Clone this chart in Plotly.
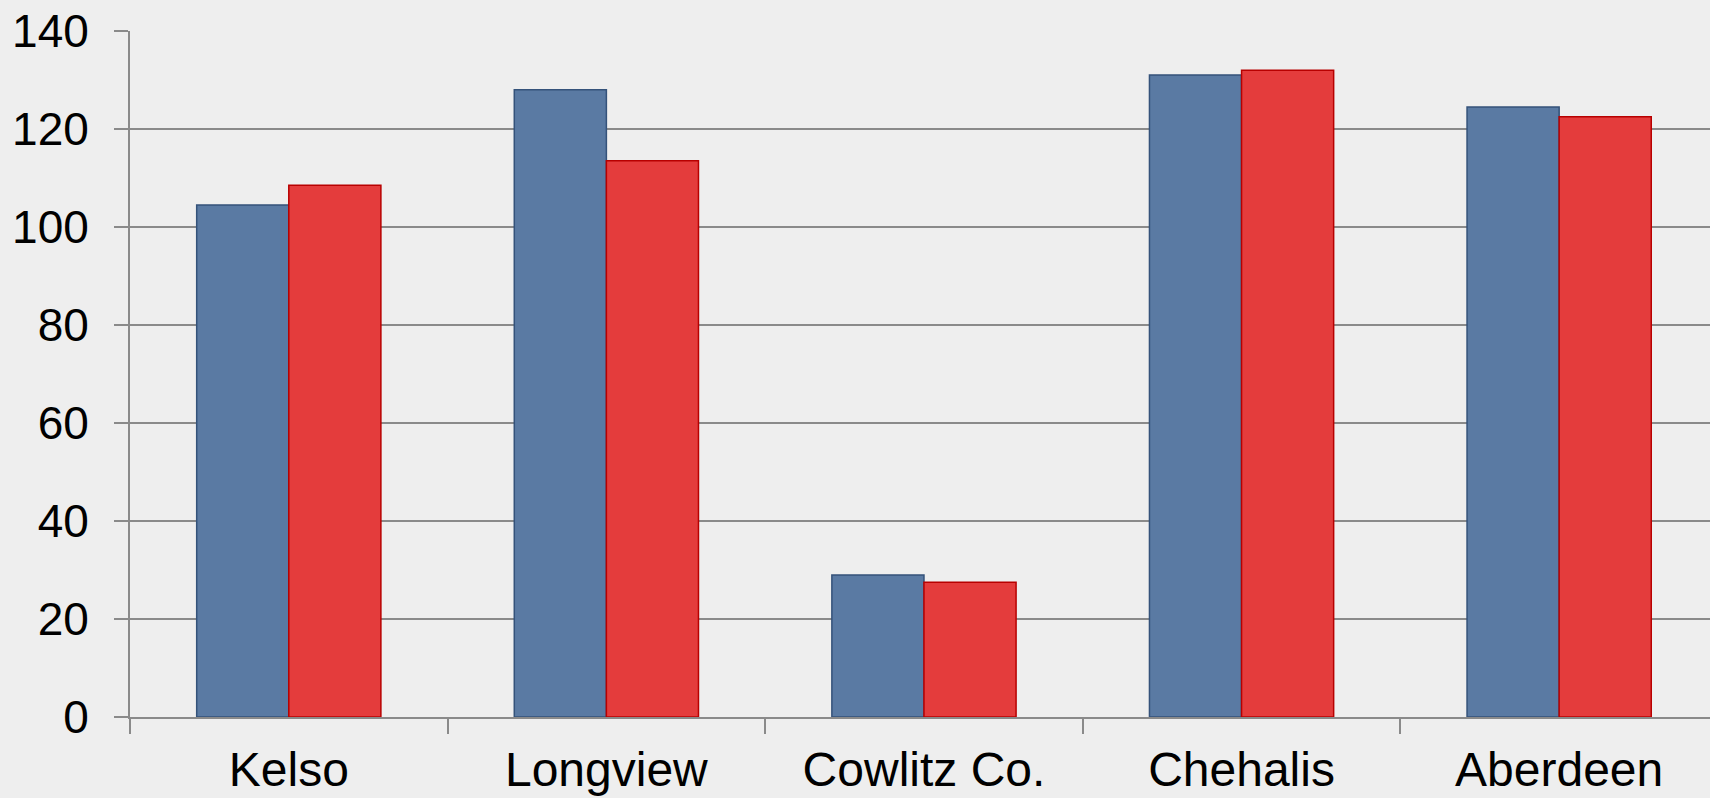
import plotly.graph_objects as go

categories = ["Kelso", "Longview", "Cowlitz Co.", "Chehalis", "Aberdeen"]
series_blue = [104.5, 128.0, 29.0, 131.0, 124.5]
series_red = [108.5, 113.5, 27.5, 132.0, 122.5]
y_ticks = [0, 20, 40, 60, 80, 100, 120, 140]

fig = go.Figure()
fig.add_trace(go.Bar(
    x=categories, y=series_blue, name="Series 1",
    marker=dict(color="#5a7aa3", line=dict(color="#34527a", width=1.5)),
))
fig.add_trace(go.Bar(
    x=categories, y=series_red, name="Series 2",
    marker=dict(color="#e43c3c", line=dict(color="#b80000", width=1.5)),
))

fig.update_layout(
    width=1710, height=798,
    margin=dict(l=130, r=0, t=31, b=81, pad=0, autoexpand=False),
    paper_bgcolor="#eeeeee", plot_bgcolor="#eeeeee",
    barmode="group", bargap=0.42, bargroupgap=0,
    showlegend=False,
    font=dict(family="Liberation Sans, Arial, sans-serif", size=47, color="#000000"),
)
fig.update_xaxes(
    range=[-0.5, 4.475], showgrid=False, automargin=False,
    showline=True, linecolor="#8a8a8a", linewidth=2,
    ticks="outside", ticklen=15, tickwidth=2, tickcolor="#8a8a8a",
    tickson="boundaries", ticklabelstandoff=9,
    tickfont=dict(size=48),
)
fig.update_yaxes(
    range=[0, 140], tickvals=y_ticks, automargin=False,
    showgrid=True, gridcolor="#8a8a8a", gridwidth=2,
    showline=True, linecolor="#8a8a8a", linewidth=2,
    ticks="outside", ticklen=14, tickwidth=2, tickcolor="#8a8a8a",
    ticklabelstandoff=16, zeroline=False,
    tickfont=dict(size=46),
)

fig.write_html(
    "out.html",
    config={"displayModeBar": False},
    post_script="document.body.style.margin='0';document.body.style.overflow='hidden';",
)
